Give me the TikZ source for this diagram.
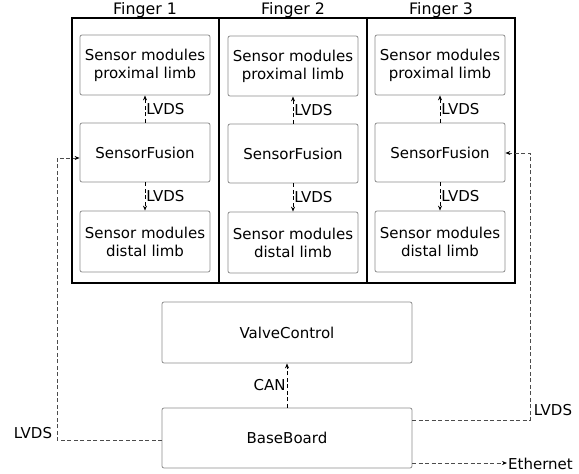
\documentclass[tikz,border=0pt]{standalone}
\usepackage{fontspec}
\setmainfont{DejaVu Sans}
\usetikzlibrary{arrows.meta}
\begin{document}
\begin{tikzpicture}[x=1pt,y=-1pt,
  every node/.style={font=\fontsize{15}{18}\selectfont},
  box/.style={draw=black!45, line width=0.8pt, rounded corners=2pt, align=center, inner sep=0pt},
  frame/.style={draw=black, line width=1.8pt},
  title/.style={font=\fontsize{15.8}{18}\selectfont},
  link/.style={line width=0.75pt, dash pattern=on 4pt off 2.5pt, -{Stealth[length=5pt,width=4pt,black]}},
  longlink/.style={link, draw=black!70},
  lbl/.style={inner sep=1pt}
]
\useasboundingbox (0,0) rectangle (579,474);

% finger frames
\draw[frame] (72,18) rectangle (515,283);
\draw[frame] (219,18) -- (219,283);
\draw[frame] (367,18) -- (367,283);
\node[title] (t1) at (145,10) {Finger 1};
\node[title] (t2) at (293,10) {Finger 2};
\node[title] (t3) at (441,10) {Finger 3};

% finger boxes
\foreach \i/\x/\dy in {1/145/0, 2/293/1, 3/440/0}{
  \node[box, minimum width=130pt, minimum height=60pt] (p\i) at (\x,65+\dy) {Sensor modules\\proximal limb};
  \node[box, minimum width=130pt, minimum height=59pt] (f\i) at (\x,152.5+\dy) {SensorFusion};
  \node[box, minimum width=130pt, minimum height=61pt] (d\i) at (\x,241.5+\dy) {Sensor modules\\distal limb};
  \draw[link] (f\i) -- node[lbl, right] {LVDS} (p\i);
  \draw[link] (f\i) -- node[lbl, right] {LVDS} (d\i);
}

% lower boards
\node[box, minimum width=250pt, minimum height=61pt] (vc) at (287,332.5) {ValveControl};
\node[box, minimum width=250pt, minimum height=60pt] (bb) at (287,438) {BaseBoard};
\draw[link] (bb) -- node[lbl, left] {CAN} (vc);

% LVDS links to the fingers
\coordinate (lb) at (162,440);
\coordinate (rb) at (412,420);
\draw[longlink] (lb) -| (57,158) -- (f1.west |- 0,158);
\node (ll) at (33,433) {LVDS};
\draw[longlink] (rb) -| (530,153) -- (f3.east |- 0,153);
\node (rl) at (553,410) {LVDS};

% Ethernet
\coordinate (eb) at (412,463);
\node[anchor=west, inner sep=1pt] (eth) at (507,464) {Ethernet};
\draw[longlink] (eb) -- (eth.west |- eb);
\end{tikzpicture}
\end{document}
